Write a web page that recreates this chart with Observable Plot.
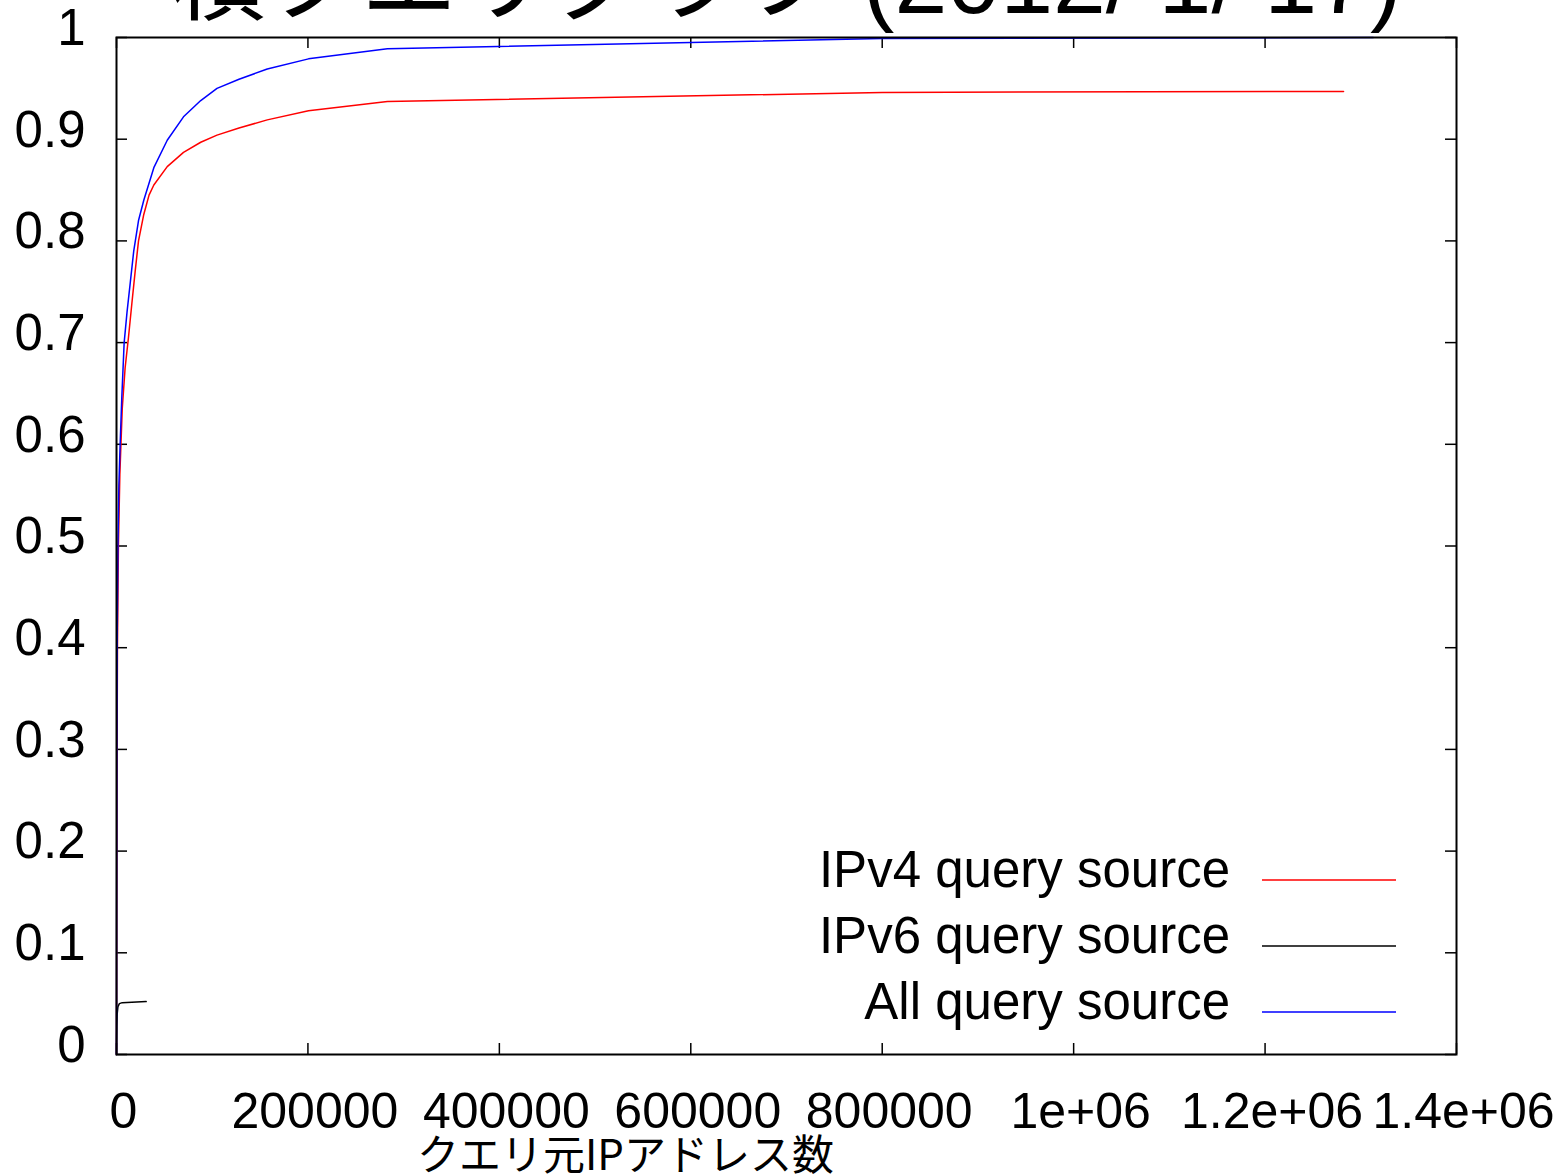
<!DOCTYPE html>
<html><head><meta charset="utf-8">
<script src="https://cdn.jsdelivr.net/npm/d3@7"></script>
<script src="https://cdn.jsdelivr.net/npm/@observablehq/plot@0.6"></script>
<style>
html,body{margin:0;padding:0;background:#fff;}
#chart{position:relative;width:1567px;height:1175px;overflow:hidden;}
</style></head><body><div id="chart"></div>
<script>
const titleText = "積クエリグラフ (2012/ 1/ 17)";
const xLabelText = "クエリ元IPアドレス数";

const seriesNames = ["IPv4 query source", "IPv6 query source", "All query source"];
const seriesColors = ["#ff0000", "#000000", "#0000ff"];

const ipv4X = [0, 200, 500, 1000, 2000, 3500, 6000, 9000, 12500, 16000, 19500, 23000, 28500, 34000, 39000, 53000, 70000, 88000, 105000, 128000, 157500, 200600, 283000, 800000, 1282000];
const ipv4Y = [0, 0.12, 0.27, 0.40, 0.50, 0.57, 0.635, 0.675, 0.705, 0.738, 0.77, 0.80, 0.826, 0.845, 0.855, 0.873, 0.887, 0.897, 0.904, 0.911, 0.919, 0.928, 0.937, 0.946, 0.947];

const ipv6X = [0, 100, 300, 700, 1500, 3000, 6000, 31000];
const ipv6Y = [0, 0.012, 0.028, 0.040, 0.047, 0.050, 0.051, 0.052];

const allX = [0, 150, 400, 800, 1500, 2500, 3800, 5500, 8000, 11000, 14500, 18000, 23000, 28500, 39000, 53000, 70000, 88000, 105000, 128000, 157500, 200600, 283000, 800000, 1313000];
const allY = [0, 0.15, 0.30, 0.42, 0.50, 0.56, 0.60, 0.645, 0.70, 0.73, 0.76, 0.79, 0.82, 0.84, 0.872, 0.899, 0.922, 0.938, 0.95, 0.959, 0.969, 0.979, 0.989, 0.999, 1.0];

const xTicks = [0, 200000, 400000, 600000, 800000, 1000000, 1200000, 1400000];
const xTickLabels = ["0", "200000", "400000", "600000", "800000", "1e+06", "1.2e+06", "1.4e+06"];
const yTicks = [0, 0.1, 0.2, 0.3, 0.4, 0.5, 0.6, 0.7, 0.8, 0.9, 1];
const yTickLabels = ["0", "0.1", "0.2", "0.3", "0.4", "0.5", "0.6", "0.7", "0.8", "0.9", "1"];

const toRows = (name, xs, ys) => xs.map((x, i) => ({series: name, x, y: ys[i]}));
const rows = [
  ...toRows(seriesNames[0], ipv4X, ipv4Y),
  ...toRows(seriesNames[1], ipv6X, ipv6Y),
  ...toRows(seriesNames[2], allX, allY)
];

const W = 1567, H = 1175;
const mL = 116, mR = 111, mT = 37, mB = 121;
const FW = W - mL - mR, FH = H - mT - mB;
const latin = "'Liberation Sans', Arial, 'Noto Sans CJK JP', sans-serif";

const plot = Plot.plot({
  width: W, height: H,
  marginLeft: mL, marginRight: mR, marginTop: mT, marginBottom: mB,
  style: {fontFamily: latin, background: "white", color: "black"},
  x: {domain: [0, 1400000]},
  y: {domain: [0, 1]},
  color: {domain: seriesNames, range: seriesColors},
  marks: [
    Plot.tickY(yTicks, {y: d => d, insetRight: FW - 11, stroke: "black", strokeWidth: 1.5}),
    Plot.tickY(yTicks, {y: d => d, insetLeft: FW - 11, stroke: "black", strokeWidth: 1.5}),
    Plot.tickX(xTicks, {x: d => d, insetTop: FH - 11, stroke: "black", strokeWidth: 1.5}),
    Plot.tickX(xTicks, {x: d => d, insetBottom: FH - 11, stroke: "black", strokeWidth: 1.5}),
    Plot.axisY({ticks: yTicks, tickSize: 0, tickPadding: 31, fontSize: 51, dy: -9, label: null,
      tickFormat: d => yTickLabels[yTicks.indexOf(d)]}),
    Plot.axisX({ticks: xTicks, tickSize: 0, tickPadding: 38, fontSize: 50, dx: 7, label: null,
      tickFormat: d => xTickLabels[xTicks.indexOf(d)]}),
    Plot.line(rows, {x: "x", y: "y", z: "series", stroke: "series", strokeWidth: 1.5}),
    Plot.frame({stroke: "black", strokeWidth: 2}),
    Plot.text([titleText], {text: d => d, frameAnchor: "top", dy: -25, lineAnchor: "bottom", fontSize: 95, fill: "black"}),
    Plot.text([xLabelText], {text: d => d, frameAnchor: "bottom", dx: -161, dy: 115, lineAnchor: "bottom", fontSize: 42, fill: "black",
      fontFamily: "'Noto Sans CJK JP', sans-serif"})
  ]
});
document.getElementById("chart").appendChild(plot);

// legend (gnuplot-style, inside the frame, bottom right)
const svg = d3.select(plot);
const lg = svg.append("g").attr("font-family", latin).attr("font-size", 51);
const legendRowsY = [880, 946, 1012];
seriesNames.forEach((name, i) => {
  const y = legendRowsY[i];
  lg.append("text").attr("x", 1230).attr("y", y + 7).attr("text-anchor", "end").attr("fill", "black").text(name);
  lg.append("line").attr("x1", 1262).attr("x2", 1396).attr("y1", y).attr("y2", y)
    .attr("stroke", seriesColors[i]).attr("stroke-width", 1.5);
});
</script></body></html>
